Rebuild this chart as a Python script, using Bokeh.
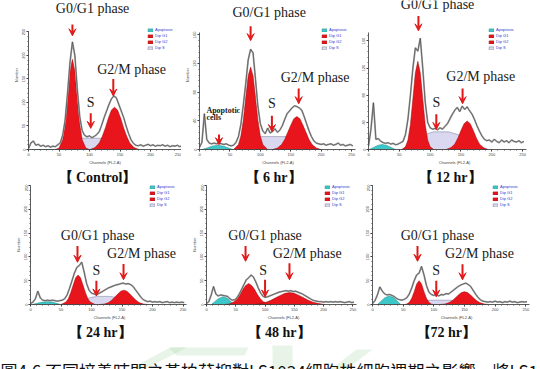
from bokeh.plotting import figure
from bokeh.layouts import column, row
from bokeh.models import (Range1d, FixedTicker, Legend, LegendItem, Arrow,
                          VeeHead, Title)
from bokeh.core.properties import value
from bokeh.embed import file_html
from bokeh.resources import INLINE

# ---------------------------------------------------------------------------
# DNA histograms (FL2-A channel bins of width 4, counts per bin)
# ---------------------------------------------------------------------------
ctrl_raw = [2, 14, 18, 9, 11, 7, 9, 6, 8, 5, 7, 6, 10, 14, 30, 62, 120, 185, 229, 200,
            128, 70, 40, 30, 27, 29, 25, 28, 32, 38, 52, 68, 82, 96, 108, 114, 110, 96, 82, 68,
            50, 34, 21, 13, 9, 8, 10, 7, 9, 11, 8, 10, 7, 9, 8, 10, 7, 9, 6, 8,
            7, 9, 6, 8]
h6_raw = [3, 10, 50, 14, 9, 8, 9, 8, 9, 8, 7, 8, 6, 5, 6, 10, 18, 35, 62, 92,
          125, 140, 135, 98, 60, 36, 26, 22, 30, 23, 25, 29, 24, 27, 33, 42, 50, 54, 58, 61,
          60, 58, 55, 46, 36, 26, 18, 12, 9, 8, 7, 8, 6, 7, 8, 6, 7, 9, 6, 7,
          5, 6, 7, 5]
h12_raw = [5, 30, 69, 15, 16, 12, 10, 9, 10, 8, 9, 7, 8, 10, 12, 22, 45, 80, 120, 150,
           145, 164, 120, 70, 40, 32, 30, 31, 29, 32, 30, 34, 38, 45, 52, 58, 62, 56, 64, 59,
           63, 57, 52, 44, 35, 27, 20, 15, 13, 14, 11, 15, 12, 10, 14, 11, 13, 10, 14, 12,
           11, 13, 10, 12]
h24_raw = [2, 5, 12, 28, 14, 9, 8, 9, 8, 9, 8, 7, 8, 9, 12, 20, 34, 50, 66, 78,
           82, 89, 68, 44, 30, 24, 22, 21, 23, 26, 29, 32, 35, 37, 39, 41, 42, 44, 45, 43,
           44, 42, 38, 31, 24, 17, 11, 8, 6, 7, 5, 6, 5, 6, 4, 5, 6, 4, 5, 4,
           5, 4, 5, 4]
h48_raw = [2, 6, 20, 38, 22, 18, 20, 19, 18, 17, 12, 9, 10, 14, 22, 32, 42, 52, 56, 62,
           58, 48, 36, 25, 18, 15, 16, 18, 20, 22, 24, 26, 27, 28, 29, 28, 29, 27, 28, 26,
           24, 22, 19, 16, 13, 10, 8, 7, 6, 6, 5, 6, 5, 6, 5, 6, 5, 6, 5, 4,
           5, 6, 4, 5]
h72_raw = [2, 8, 20, 37, 28, 22, 20, 21, 19, 16, 12, 10, 9, 11, 14, 22, 35, 50, 62, 66,
           80, 62, 40, 26, 21, 19, 22, 18, 21, 20, 23, 22, 26, 30, 34, 38, 41, 43, 45, 42,
           38, 30, 22, 15, 10, 7, 6, 5, 6, 5, 7, 5, 6, 4, 6, 5, 7, 5, 6, 4,
           5, 6, 5, 6]

# ---------------------------------------------------------------------------
# Fitted ModFit components as (channel, count) outlines
# ---------------------------------------------------------------------------
ctrl_apop = [(5, 0), (25, 0), (45, 0)]
ctrl_g1 = [(44, 0), (50, 3), (56, 21), (60, 55), (64, 110), (68, 167), (72, 192),
           (76, 167), (80, 110), (84, 55), (88, 21), (94, 3), (100, 0)]
ctrl_g2 = [(101, 0), (109, 4), (116, 14), (121, 28), (126, 46), (131, 67), (136, 84),
           (141, 90), (146, 84), (151, 67), (156, 46), (161, 28), (166, 14), (173, 4), (181, 0)]
ctrl_s = [(55, 0), (62, 6), (70, 14), (78, 21), (85, 24), (132, 24), (145, 18),
          (158, 9), (173, 0)]

h6_apop = [(4, 0), (12, 2), (20, 4.5), (30, 6), (40, 4.5), (48, 2), (55, 0)]
h6_g1 = [(56, 0), (64, 7), (68, 19), (72, 41), (76, 73), (80, 103), (84, 115),
         (88, 103), (92, 73), (96, 41), (100, 19), (104, 7), (112, 0)]
h6_g2 = [(120, 0), (128, 2), (135, 7), (140, 14), (145, 24), (150, 34), (155, 43),
         (160, 46), (165, 43), (170, 34), (175, 24), (180, 14), (185, 7), (192, 2), (200, 0)]
h6_s = [(65, 0), (78, 8), (92, 16), (100, 18), (150, 18), (165, 14), (180, 7), (195, 0)]

h12_apop = [(1, 0), (8, 3), (15, 6), (22, 7.5), (30, 6), (37, 3), (44, 0)]
h12_g1 = [(54, 0), (60, 4), (64, 14), (68, 37), (72, 75), (76, 113), (80, 130),
          (84, 113), (88, 75), (92, 37), (96, 14), (100, 4), (106, 0)]
h12_g2 = [(126, 0), (134, 3), (140, 8), (145, 17), (150, 28), (155, 38), (160, 42),
          (165, 38), (170, 28), (175, 17), (180, 8), (186, 3), (194, 0)]
h12_s = [(55, 0), (65, 8), (80, 17), (95, 23), (105, 26), (130, 26), (145, 22),
         (160, 15), (175, 7), (192, 0)]

h24_apop = [(3, 0), (12, 3), (20, 5), (28, 6), (36, 5), (44, 2), (50, 0)]
h24_g1 = [(50, 0), (58, 5), (62, 12), (66, 25), (70, 41), (74, 56), (78, 62),
          (82, 56), (86, 41), (90, 25), (94, 12), (98, 5), (106, 0)]
h24_g2 = [(113, 0), (121, 1), (128, 4), (133, 9), (138, 15), (143, 22), (148, 28),
          (153, 30), (158, 28), (163, 22), (168, 15), (173, 9), (178, 4), (185, 1), (193, 0)]
h24_s = [(55, 0), (70, 5), (85, 10), (100, 15), (110, 17), (130, 17), (150, 13),
         (170, 6), (186, 0)]

h48_apop = [(8, 0), (14, 6), (20, 12), (28, 16.5), (36, 13), (42, 6), (47, 0)]
h48_g1 = [(32, 0), (40, 1.5), (47, 6), (52, 12), (57, 21), (62, 32), (67, 40), (72, 44),
          (77, 40), (82, 32), (87, 21), (92, 12), (97, 6), (104, 1.5), (112, 0)]
h48_g2 = [(82, 0), (92, 1.9), (102, 4.8), (110, 8.7), (118, 14), (126, 19), (134, 23.4),
          (142, 25), (150, 23.4), (158, 19), (166, 14), (174, 8.7), (182, 4.8), (192, 1.9),
          (202, 0)]
h48_s = [(90, 0), (100, 4), (115, 6), (140, 6), (165, 4), (185, 0)]

h72_apop = [(8, 0), (14, 7), (20, 14), (27, 18), (34, 15), (40, 8), (46, 0)]
h72_g1 = [(52, 0), (56, 1), (60, 4.5), (64, 13), (68, 27), (72, 43), (76, 50),
          (80, 43), (84, 27), (88, 13), (92, 4.5), (96, 1), (100, 0)]
h72_g2 = [(110, 0), (118, 1), (125, 4), (130, 8), (135, 13.5), (140, 20), (145, 25),
          (150, 27), (155, 25), (160, 20), (165, 13.5), (170, 8), (175, 4), (182, 1), (190, 0)]
h72_s = [(57, 0), (70, 4), (85, 8), (95, 9), (135, 9), (150, 7), (165, 4), (182, 0)]

PANEL_TITLES = ["【 Control】", "【 6 hr】", "【 12 hr】", "【 24 hr】", "【 48 hr】", "【72 hr】"]
LEGEND_LABELS = ["Apoptosis", "Dip G1", "Dip G2", "Dip S"]
CAPTION = "圖4.6  不同培養時間之黃柏苷抑對LS1034細胞株細胞週期之影響。將LS1"

# ---------------------------------------------------------------------------
# Panel geometry and annotation placement
# ---------------------------------------------------------------------------
PANELS = [
    dict(raw=ctrl_raw, apop=ctrl_apop, g1=ctrl_g1, g2=ctrl_g2, s=ctrl_s,
         w=181, h=184, left=28, bottom=28, xmax=250.8, ymax=317, ytop=250, ystep=50,
         legend_at=(119, 99), toff=30,
         labels=[(105, 301), (169, 171), (102, 100)],
         arrows=[(72, 266, 242), (139, 150, 114), (102, 77, 45)]),
    dict(raw=h6_raw, apop=h6_apop, g1=h6_g1, g2=h6_g2, s=h6_s,
         w=175, h=184, left=15, bottom=28, xmax=258, ymax=208, ytop=164, ystep=40,
         legend_at=(122, 99), toff=46,
         labels=[(114.5, 190.7), (190, 101), (119, 64)],
         arrows=[(84, 172, 152), (163, 85, 64), (119, 47, 25), (32, 21, 6.7)],
         note=[(11.3, 54.7, "Apoptotic"), (11.3, 44, "cells")]),
    dict(raw=h12_raw, apop=h12_apop, g1=h12_g1, g2=h12_g2, s=h12_s,
         w=184, h=184, left=12, bottom=28, xmax=279, ymax=219.7, ytop=173, ystep=40,
         legend_at=(120, 99), toff=50,
         labels=[(112, 214), (182, 107), (110, 69)],
         arrows=[(81, 197, 175), (152.6, 90, 67.6), (110, 52, 29.6)]),
    dict(raw=h24_raw, apop=h24_apop, g1=h24_g1, g2=h24_g2, s=h24_s,
         w=188, h=155, left=30, bottom=30, xmax=259, ymax=252, ytop=250, ystep=50,
         legend_at=(119, 97), toff=38,
         labels=[(110, 145), (182, 107), (108, 70.6)],
         arrows=[(77, 123, 88.7), (152.5, 85, 52), (108, 50, 18)]),
    dict(raw=h48_raw, apop=h48_apop, g1=h48_g1, g2=h48_g2, s=h48_s,
         w=172, h=155, left=14, bottom=30, xmax=263, ymax=252, ytop=250, ystep=50,
         legend_at=(118, 97), toff=41,
         labels=[(100, 145), (172, 107), (96.7, 70.6)],
         arrows=[(66.7, 123, 90.7), (141.7, 86.7, 52), (100, 52, 16)]),
    dict(raw=h72_raw, apop=h72_apop, g1=h72_g1, g2=h72_g2, s=h72_s,
         w=180, h=155, left=12, bottom=30, xmax=274, ymax=252, ytop=250, ystep=50,
         legend_at=(120, 97), toff=44,
         labels=[(106, 145), (174.5, 107), (104, 70.6)],
         arrows=[(73.4, 123, 90.7), (146.8, 84.7, 52), (104, 50, 16)]),
]

RED = "#e8161c"
RED_EDGE = "#9a0a0a"
CYAN = "#3cc8c8"
LAVENDER = "#d9d8f0"
ARROW_RED = "#e01818"
SERIF = "'Liberation Serif', 'Times New Roman', serif"


def unzip(points):
    return [c for c, _ in points], [n for _, n in points]


def make_panel(cfg, title):
    p = figure(width=cfg["w"], height=cfg["h"],
               x_range=Range1d(0, cfg["xmax"]), y_range=Range1d(0, cfg["ymax"]),
               output_backend="svg", toolbar_location=None,
               min_border_left=cfg["left"], min_border_right=0,
               min_border_top=0, min_border_bottom=cfg["bottom"])
    p.outline_line_color = None
    p.grid.visible = False
    p.background_fill_color = "white"
    p.border_fill_color = "white"

    # axes
    xa, ya = p.xaxis[0], p.yaxis[0]
    xa.bounds = (0, 256)
    xa.ticker = FixedTicker(ticks=[0, 50, 100, 150, 200, 250],
                            minor_ticks=list(range(0, 257, 10)))
    xa.axis_label = "Channels (FL2-A)"
    ya.bounds = (0, cfg["ytop"])
    ya.ticker = FixedTicker(ticks=list(range(0, cfg["ytop"] + 1, cfg["ystep"])),
                            minor_ticks=list(range(0, cfg["ytop"] + 1, cfg["ystep"] // 5)))
    ya.axis_label = "Number" if cfg["left"] >= 14 else None
    ya.major_label_orientation = "vertical"
    for ax in (xa, ya):
        ax.axis_line_color = "#333333"
        ax.axis_line_width = 0.8
        ax.major_tick_line_color = "#333333"
        ax.minor_tick_line_color = "#555555"
        ax.major_tick_in = 0
        ax.major_tick_out = 2
        ax.minor_tick_in = 0
        ax.minor_tick_out = 1
        ax.major_label_standoff = 1
        ax.major_label_text_font_size = "4px"
        ax.major_label_text_color = "#444444"
        ax.axis_label_standoff = 1
        ax.axis_label_text_font_size = "4px"
        ax.axis_label_text_font_style = "normal"
        ax.axis_label_text_color = "#444444"

    # fitted components
    ax_, ay_ = unzip(cfg["apop"])
    r_apop = p.patch(ax_, ay_, fill_color=CYAN, line_color="#2a8a8a", line_width=0.5)
    sx, sy = unzip(cfg["s"])
    r_s = p.patch(sx, sy, fill_color=LAVENDER, line_color="#8a8aa8", line_width=0.6)
    gx, gy = unzip(cfg["g1"])
    r_g1 = p.patch(gx, gy, fill_color=RED, line_color=RED_EDGE, line_width=0.5)
    hx, hy = unzip(cfg["g2"])
    r_g2 = p.patch(hx, hy, fill_color=RED, line_color=RED_EDGE, line_width=0.5)

    # measured histogram
    channels = [4 * i for i in range(len(cfg["raw"]))]
    p.line(channels, cfg["raw"], line_color="#a8a8a8", line_width=1.8)
    p.line(channels, cfg["raw"], line_color="#3a3a3a", line_width=0.6)

    legend = Legend(items=[LegendItem(label=LEGEND_LABELS[0], renderers=[r_apop]),
                           LegendItem(label=LEGEND_LABELS[1], renderers=[r_g1]),
                           LegendItem(label=LEGEND_LABELS[2], renderers=[r_g2]),
                           LegendItem(label=LEGEND_LABELS[3], renderers=[r_s])],
                    location=cfg["legend_at"], orientation="vertical",
                    label_text_font_size="4px", label_text_color="#3340d0",
                    glyph_width=6, glyph_height=4, label_height=4, label_width=18,
                    spacing=1, padding=0, margin=0, label_standoff=2,
                    background_fill_alpha=0, border_line_alpha=0)
    p.add_layout(legend)

    # phase labels and arrows
    lx = [x for x, _ in cfg["labels"]]
    ly = [y for _, y in cfg["labels"]]
    p.text(x=lx, y=ly, text=["G0/G1 phase", "G2/M phase", "S"],
           text_font=value(SERIF), text_font_size="14px", text_color="#1a1a1a",
           text_align="center", text_baseline="middle")
    for x, y0, y1 in cfg["arrows"]:
        p.add_layout(Arrow(end=VeeHead(size=7, fill_color=ARROW_RED, line_color=ARROW_RED,
                                       line_width=1),
                           x_start=x, y_start=y0, x_end=x, y_end=y1,
                           line_color=ARROW_RED, line_width=2))
    if "note" in cfg:
        p.text(x=[n[0] for n in cfg["note"]], y=[n[1] for n in cfg["note"]],
               text=[n[2] for n in cfg["note"]], text_font=value(SERIF),
               text_font_size="8px", text_font_style="bold", text_color="#1a1a1a",
               text_align="left", text_baseline="middle")

    p.add_layout(Title(text=title, align="left", offset=cfg["toff"], standoff=0,
                       text_font=SERIF, text_font_size="14px", text_font_style="bold",
                       text_color="#111111"), "below")
    return p


figs = [make_panel(cfg, t) for cfg, t in zip(PANELS, PANEL_TITLES)]

# caption strip with the faint watermark behind it
cap = figure(width=540, height=30, x_range=Range1d(0, 540), y_range=Range1d(0, 30),
             output_backend="svg", toolbar_location=None,
             x_axis_location=None, y_axis_location=None, min_border=0)
cap.grid.visible = False
cap.outline_line_color = None
cap.patches(xs=[[128, 144, 186, 170], [168, 248, 244, 176], [272, 292, 292, 272],
                [330, 346, 372, 356]],
            ys=[[0, 0, 22, 22], [22, 22, 14, 14], [0, 0, 24, 24], [0, 0, 20, 20]],
            fill_color="#9fd49f", fill_alpha=0.25, line_color=None)
cap.text(x=[0], y=[12], text=[CAPTION], text_font=value("Noto Sans CJK TC"),
         text_font_size="17px", text_color="#111111", text_baseline="top",
         text_align="left")

layout = column(row(*figs[:3], spacing=0), row(*figs[3:], spacing=0), cap, spacing=0)

with open("out.html", "w") as f:
    f.write(file_html(layout, INLINE))
